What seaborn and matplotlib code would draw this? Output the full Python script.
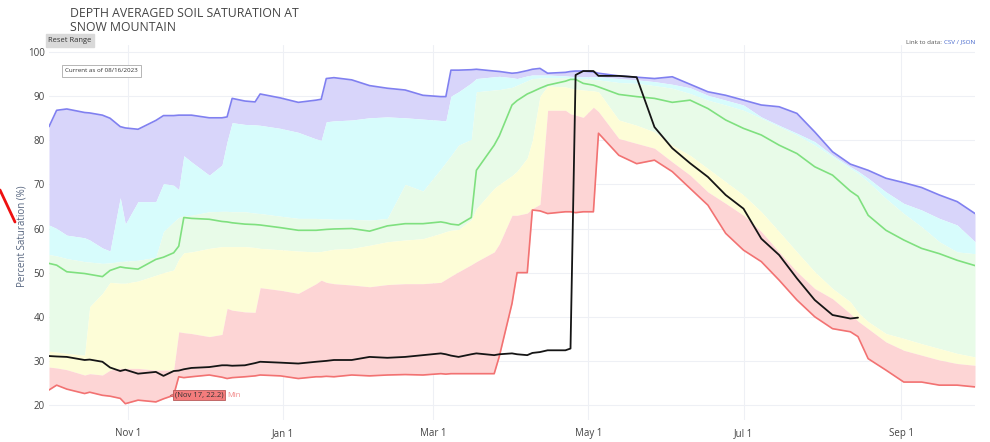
import numpy as np
import pandas as pd
import matplotlib
matplotlib.use("Agg")
import matplotlib.pyplot as plt
from matplotlib.lines import Line2D
import seaborn as sns

# ---------------------------------- data ----------------------------------
# days since 2022-10-01 (start of the water year)
day_offsets = [0, 3, 7, 14, 16, 21, 24, 28, 30, 35,
               42, 45, 49, 51, 53, 56, 63, 68, 70, 72,
               77, 81, 83, 91, 98, 105, 107, 109, 112, 119,
               126, 133, 140, 147, 154, 156, 158, 161, 166, 168,
               175, 177, 182, 184, 188, 190, 193, 196, 203, 205,
               207, 210, 214, 216, 224, 231, 238, 245, 252, 259,
               266, 273, 280, 287, 294, 301, 308, 315, 318, 322,
               329, 336, 343, 350, 357, 364]

sat_max = [83.1, 86.8, 87.1, 86.3, 86.2, 85.7, 85.0, 83.1, 82.8, 82.5,
           84.5, 85.6, 85.6, 85.7, 85.7, 85.7, 85.1, 85.1, 85.3, 89.5,
           88.9, 88.7, 90.5, 89.6, 88.6, 89.1, 89.3, 94.0, 94.2, 93.7,
           92.4, 91.8, 91.4, 90.2, 89.9, 89.9, 95.9, 95.9, 96.0, 96.1,
           95.7, 95.6, 95.2, 95.3, 95.8, 96.1, 96.3, 95.2, 95.4, 95.6,
           95.7, 95.7, 95.5, 95.2, 94.6, 94.3, 94.0, 94.4, 92.7, 91.0,
           90.2, 89.1, 88.0, 87.6, 86.1, 81.9, 77.4, 74.6, 74.0, 73.2,
           71.4, 70.4, 69.3, 67.6, 66.1, 63.4]

sat_p90 = [60.8, 60.0, 58.5, 57.9, 57.4, 55.6, 54.9, 67.0, 61.0, 66.1,
           66.1, 70.2, 69.8, 68.8, 76.5, 75.1, 72.1, 74.4, 79.7, 84.0,
           83.6, 83.5, 83.4, 82.7, 81.8, 80.3, 80.0, 84.2, 84.4, 84.6,
           85.1, 85.3, 85.1, 84.8, 84.5, 84.4, 90.0, 91.0, 93.0, 94.0,
           94.4, 94.5, 94.2, 94.0, 94.6, 94.8, 94.8, 94.8, 94.6, 94.5,
           94.4, 94.4, 94.4, 94.4, 94.0, 93.7, 93.3, 92.7, 91.9, 90.2,
           89.1, 88.0, 85.3, 83.4, 81.6, 79.7, 76.6, 74.0, 73.0, 71.4,
           68.3, 65.7, 64.2, 62.3, 60.8, 57.0]

sat_p70 = [54.1, 53.8, 53.2, 52.5, 52.4, 52.1, 52.2, 52.5, 52.6, 52.8,
           53.5, 59.3, 61.5, 62.5, 62.9, 63.0, 63.8, 63.9, 63.9, 63.8,
           63.8, 63.5, 63.4, 62.8, 62.3, 62.3, 62.2, 62.2, 62.1, 62.1,
           61.9, 62.3, 70.0, 68.5, 73.5, 75.0, 76.5, 78.9, 80.2, 91.0,
           91.4, 91.5, 92.0, 92.5, 93.5, 94.0, 94.1, 94.2, 94.2, 94.1,
           94.0, 94.0, 93.8, 93.7, 93.1, 92.9, 92.4, 91.8, 90.6, 89.1,
           88.0, 86.8, 85.0, 83.1, 81.2, 78.9, 76.3, 73.6, 72.5, 70.6,
           66.8, 63.4, 60.4, 57.0, 54.7, 54.3]

sat_median = [52.1, 51.7, 50.2, 49.8, 49.6, 49.1, 50.5, 51.3, 51.1, 50.8,
              53.0, 53.5, 54.5, 56.0, 62.5, 62.3, 62.1, 61.6, 61.5, 61.3,
              61.0, 60.9, 60.8, 60.2, 59.6, 59.6, 59.7, 59.8, 59.9, 60.0,
              59.4, 60.6, 61.1, 61.1, 61.5, 61.3, 61.0, 60.8, 62.5, 73.2,
              78.9, 81.0, 88.0, 89.0, 90.5, 91.0, 91.8, 92.5, 93.4, 93.8,
              93.8, 92.9, 92.5, 92.1, 90.4, 89.9, 89.5, 88.6, 89.1, 87.2,
              84.6, 82.7, 81.2, 78.9, 77.0, 74.0, 72.1, 68.5, 67.3, 63.0,
              59.6, 57.4, 55.5, 54.3, 52.8, 51.6]

sat_p30 = [32.2, 32.0, 31.7, 31.3, 42.3, 45.3, 47.8, 47.6, 47.6, 48.1,
           49.4, 50.0, 50.6, 53.0, 54.5, 54.7, 55.5, 55.9, 55.9, 55.9,
           55.9, 55.7, 55.5, 55.2, 54.9, 54.7, 54.8, 55.0, 55.3, 55.5,
           56.2, 57.0, 57.4, 57.7, 58.9, 59.3, 59.6, 59.8, 62.0, 64.5,
           69.1, 70.0, 72.0, 73.0, 76.0, 80.0, 90.0, 92.3, 92.1, 91.8,
           91.6, 91.4, 91.2, 91.0, 84.6, 83.4, 81.9, 78.9, 76.6, 73.6,
           70.6, 67.6, 63.8, 59.3, 54.7, 50.2, 46.4, 43.4, 41.0, 38.9,
           36.2, 35.1, 33.9, 32.8, 31.7, 30.9]

sat_p10 = [28.6, 28.4, 28.0, 26.8, 27.1, 26.8, 27.9, 28.3, 28.3, 28.3,
           27.9, 27.9, 27.9, 36.6, 36.4, 36.2, 35.5, 36.0, 41.9, 41.5,
           41.1, 41.0, 46.6, 46.0, 45.3, 47.5, 48.3, 47.8, 47.5, 47.2,
           46.8, 47.3, 47.5, 47.5, 47.8, 48.5, 49.2, 50.2, 51.8, 52.5,
           54.7, 56.5, 63.0, 63.0, 63.5, 64.5, 65.5, 86.8, 86.8, 86.0,
           85.7, 85.2, 87.5, 86.5, 80.4, 79.3, 78.2, 75.1, 72.1, 68.3,
           65.7, 63.0, 59.3, 54.7, 50.2, 46.4, 44.1, 40.7, 39.0, 37.3,
           34.3, 32.4, 31.3, 30.2, 29.4, 29.0]

sat_min = [23.4, 24.5, 23.6, 22.6, 22.9, 22.2, 22.0, 21.5, 20.3, 21.1,
           20.7, 21.4, 22.2, 26.4, 26.2, 26.4, 26.8, 26.3, 26.0, 26.2,
           26.4, 26.6, 26.8, 26.6, 26.0, 26.4, 26.4, 26.5, 26.4, 26.8,
           26.6, 26.8, 26.9, 26.8, 27.1, 27.0, 27.1, 27.1, 27.1, 27.1,
           27.1, 31.0, 43.0, 50.0, 50.0, 64.2, 64.0, 63.4, 63.8, 63.8,
           63.6, 63.8, 63.8, 81.6, 76.6, 74.7, 75.5, 72.9, 69.1, 65.3,
           58.9, 55.1, 52.5, 48.3, 43.8, 40.0, 37.3, 36.6, 35.5, 30.5,
           27.9, 25.2, 25.2, 24.5, 24.5, 24.1]

# water year 2023, data ends 08/16/2023
sat_current = [31.1, 31.0, 30.9, 30.2, 30.3, 29.8, 28.5, 27.7, 28.0, 27.1,
               27.5, 26.6, 27.7, 27.8, 28.1, 28.4, 28.6, 29.0, 29.0, 28.9,
               29.0, 29.5, 29.8, 29.6, 29.4, 29.8, 29.9, 30.0, 30.2, 30.2,
               30.9, 30.7, 30.9, 31.3, 31.7, 31.5, 31.2, 30.9, 31.5, 31.7,
               31.3, 31.5, 31.7, 31.5, 31.3, 31.8, 32.0, 32.4, 32.4, 32.8,
               94.8, 95.7, 95.7, 94.6, 94.6, 94.3, 83.0, 78.2, 74.8, 71.7,
               67.6, 64.5, 57.7, 54.0, 48.7, 43.8, 40.4, 39.6, 39.8, np.nan,
               np.nan, np.nan, np.nan, np.nan, np.nan, np.nan]

tick_dates = ['2022-11-01', '2023-01-01', '2023-03-01', '2023-05-01', '2023-07-01', '2023-09-01']
tick_labels = ['Nov 1', 'Jan 1', 'Mar 1', 'May 1', 'Jul 1', 'Sep 1']
y_ticks = [20, 30, 40, 50, 60, 70, 80, 90, 100]

hover_date = '2022-11-17'
hover_value = 22.2

# ---------------------------------- build frame ----------------------------------
start = pd.Timestamp('2022-10-01')
df = pd.DataFrame({
    'date': start + pd.to_timedelta(day_offsets, unit='D'),
    'max': sat_max, 'p90': sat_p90, 'p70': sat_p70, 'median': sat_median,
    'p30': sat_p30, 'p10': sat_p10, 'min': sat_min, 'current': sat_current,
})

sns.set_style("white")
plt.rcParams['font.family'] = ['Open Sans', 'DejaVu Sans']

fig = plt.figure(figsize=(9.9, 4.42), dpi=100)
ax = fig.add_axes([49 / 990, 22 / 442, 926 / 990, 375 / 442])

# percentile bands
bands = [('max', 'p90', '#d8d5fa'),
         ('p90', 'p70', '#d7fcfc'),
         ('p70', 'p30', '#e8fbe8'),
         ('p30', 'p10', '#fdfdd7'),
         ('p10', 'min', '#fdd5d5')]
for upper, lower, color in bands:
    ax.fill_between(df['date'], df[lower], df[upper], color=color, lw=0, zorder=1)

sns.lineplot(data=df, x='date', y='max', color='#8080f0', lw=1.2, ax=ax, zorder=3)
sns.lineplot(data=df, x='date', y='median', color='#7fe07f', lw=1.2, ax=ax, zorder=3)
sns.lineplot(data=df, x='date', y='min', color='#f27272', lw=1.2, ax=ax, zorder=3)
sns.lineplot(data=df, x='date', y='current', color='#151515', lw=1.3, ax=ax, zorder=4)

ax.set_xlim(start, start + pd.Timedelta(days=364))
ax.set_ylim(16.6, 101.6)
ax.set_xticks(pd.to_datetime(tick_dates))
ax.set_xticklabels(tick_labels)
ax.set_yticks(y_ticks)
ax.set_xlabel('')
ax.set_ylabel('')
ax.tick_params(length=0, labelsize=7, colors='#444444')
ax.tick_params(axis='x', pad=6)
ax.tick_params(axis='y', pad=3)
ax.grid(True, color='#eef0f5', lw=0.8)
ax.set_axisbelow(True)
sns.despine(ax=ax, left=True, bottom=True)

# hover label
hd = pd.Timestamp(hover_date)
ax.scatter([hd + pd.Timedelta(days=1.2)], [hover_value], marker='<', s=12,
           color='#f47c7c', edgecolors='#b85a5a', linewidths=0.4, zorder=6)
ax.annotate('(Nov 17, 22.2)', xy=(hd, hover_value), xytext=(4.5, 0), textcoords='offset points',
            ha='left', va='center', fontsize=5.5, color='#333333', zorder=7,
            bbox=dict(boxstyle='square,pad=0.2', fc='#f47c7c', ec='#b85a5a', lw=0.6))
ax.annotate('Min', xy=(hd, hover_value), xytext=(42, 0), textcoords='offset points',
            ha='left', va='center', fontsize=5.5, color='#f28a8a', zorder=7)

# page decorations
fig.text(70 / 990, 1 - 7 / 442, 'DEPTH AVERAGED SOIL SATURATION AT\nSNOW MOUNTAIN',
         ha='left', va='top', fontsize=8.8, color='#444444', linespacing=1.1)
fig.text(70 / 990, 1 - 40.5 / 442, 'Reset Range', ha='center', va='center', fontsize=5.5,
         color='#333333', bbox=dict(boxstyle='square,pad=0.35', fc='#d9d9d9', ec='#d9d9d9'))
fig.text(101 / 990, 1 - 71 / 442, 'Current as of 08/16/2023', ha='center', va='center',
         fontsize=4.5, color='#333333',
         bbox=dict(boxstyle='square,pad=0.5', fc='white', ec='#aaaaaa', lw=0.6))
fig.text(942 / 990, 1 - 42 / 442, 'Link to data:', ha='right', va='center', fontsize=4.5, color='#555555')
fig.text(944 / 990, 1 - 42 / 442, 'CSV / JSON', ha='left', va='center', fontsize=4.5, color='#4466cc')
fig.text(22 / 990, 1 - 236 / 442, 'Percent Saturation (%)', rotation=90, ha='center', va='center',
         fontsize=7, color='#56657f')
fig.add_artist(Line2D([0 / 990, 15 / 990], [1 - 190 / 442, 1 - 222 / 442], color='#ee1111', lw=2))

fig.savefig('out.png', dpi=100)
